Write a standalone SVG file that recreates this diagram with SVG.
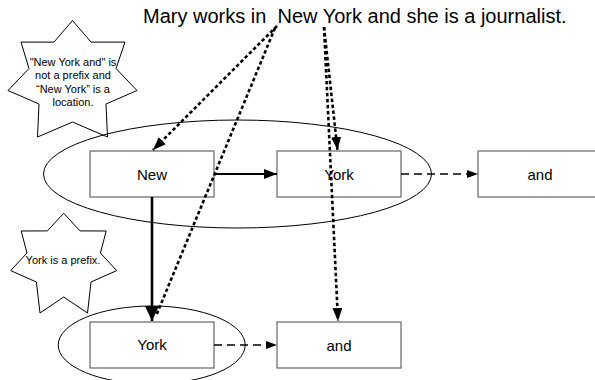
<svg xmlns="http://www.w3.org/2000/svg" width="595" height="380" viewBox="0 0 595 380">
<style>
text{font-family:"Liberation Sans",Arial,sans-serif;fill:#000}
.box{fill:#fff;stroke:#666;stroke-width:1.2}
.lbl{font-size:15px;text-anchor:middle}
.star{fill:#fff;stroke:#000;stroke-width:1}
.st{font-size:11px;text-anchor:middle}
.ell{fill:none;stroke:#000;stroke-width:1}
.solid{fill:none;stroke:#000;stroke-width:2}
.thick{fill:none;stroke:#000;stroke-width:2.6}
.dash{fill:none;stroke:#000;stroke-width:1.3;stroke-dasharray:8 5}
.dot{fill:none;stroke:#000;stroke-width:2.6;stroke-dasharray:3.5 2.5}
</style>
<defs>
<marker id="ah" markerUnits="userSpaceOnUse" markerWidth="14" markerHeight="10" refX="13" refY="5" orient="auto"><path d="M0,0 L13,5 L0,10 Z" fill="#000"/></marker>
<marker id="ahb" markerUnits="userSpaceOnUse" markerWidth="16" markerHeight="14" refX="15" refY="7" orient="auto"><path d="M0,0 L15,7 L0,14 Z" fill="#000"/></marker>
<marker id="ahs" markerUnits="userSpaceOnUse" markerWidth="12" markerHeight="8" refX="11" refY="4" orient="auto"><path d="M0,0 L11,4 L0,8 Z" fill="#000"/></marker>
</defs>
<rect width="595" height="380" fill="#fff"/>
<g id="sentence"><text x="143" y="23" font-size="20" xml:space="preserve" style="white-space:pre">Mary works in  New York and she is a journalist.</text></g>
<g id="star1">
<polygon class="star" points="72.5,20.5 91,42.1 125,42.1 116,68.5 137,90.5 106,104 107.5,137 72.5,122 37.5,137 39,104 8,90.5 29,68.5 21,42.1 54,42.1"/>
<text class="st" x="73" y="65.5">"New York and" is</text>
<text class="st" x="73" y="79">not a prefix and</text>
<text class="st" x="73" y="92.5">“New York” is a</text>
<text class="st" x="73" y="106">location.</text>
</g>
<g id="star2">
<polygon class="star" points="63.7,213.3 80,230.9 106.2,231 100.4,253 116.7,270.6 91,282 87.5,313 63.7,297 40,313 36.4,282 10.7,270.6 27,253 21.2,231 47.4,230.9"/>
<text class="st" x="63" y="263.5">York is a prefix.</text>
</g>
<g id="groups">
<ellipse id="group-top" class="ell" cx="237.5" cy="174" rx="194" ry="54"/>
<ellipse id="group-bottom" class="ell" cx="151.7" cy="345" rx="93.5" ry="39"/>
</g>
<g id="node-new"><rect class="box" x="90" y="151" width="124" height="46"/><text class="lbl" x="152" y="179.5">New</text></g>
<g id="node-york1"><rect class="box" x="277" y="151" width="124" height="46"/><text class="lbl" x="339" y="179.5">York</text></g>
<g id="node-and1"><rect class="box" x="478" y="151" width="124" height="46"/><text class="lbl" x="540" y="179.5">and</text></g>
<g id="node-york2"><rect class="box" x="90" y="322" width="124" height="46"/><text class="lbl" x="152" y="350" font-size="12.5">York</text></g>
<g id="node-and2"><rect class="box" x="277" y="322" width="124" height="46"/><text class="lbl" x="339" y="350.5">and</text></g>
<g id="connectors">
<path class="solid" d="M214,174 L277,174" marker-end="url(#ah)"/>
<path class="dash" d="M401,174 L478,174" marker-end="url(#ahs)"/>
<path class="thick" d="M152,197 L152,321" marker-end="url(#ahb)"/>
<path class="dash" d="M214,345 L277,345" marker-end="url(#ahs)"/>
<path class="dot" d="M277,26 L153,150" marker-end="url(#ah)"/>
<path class="dot" d="M275,28 L156,316"/>
<path class="dot" d="M324,27 L337.5,150" marker-end="url(#ah)"/>
<path class="dot" d="M324,27 L338,321" marker-end="url(#ah)"/>
</g>
</svg>
